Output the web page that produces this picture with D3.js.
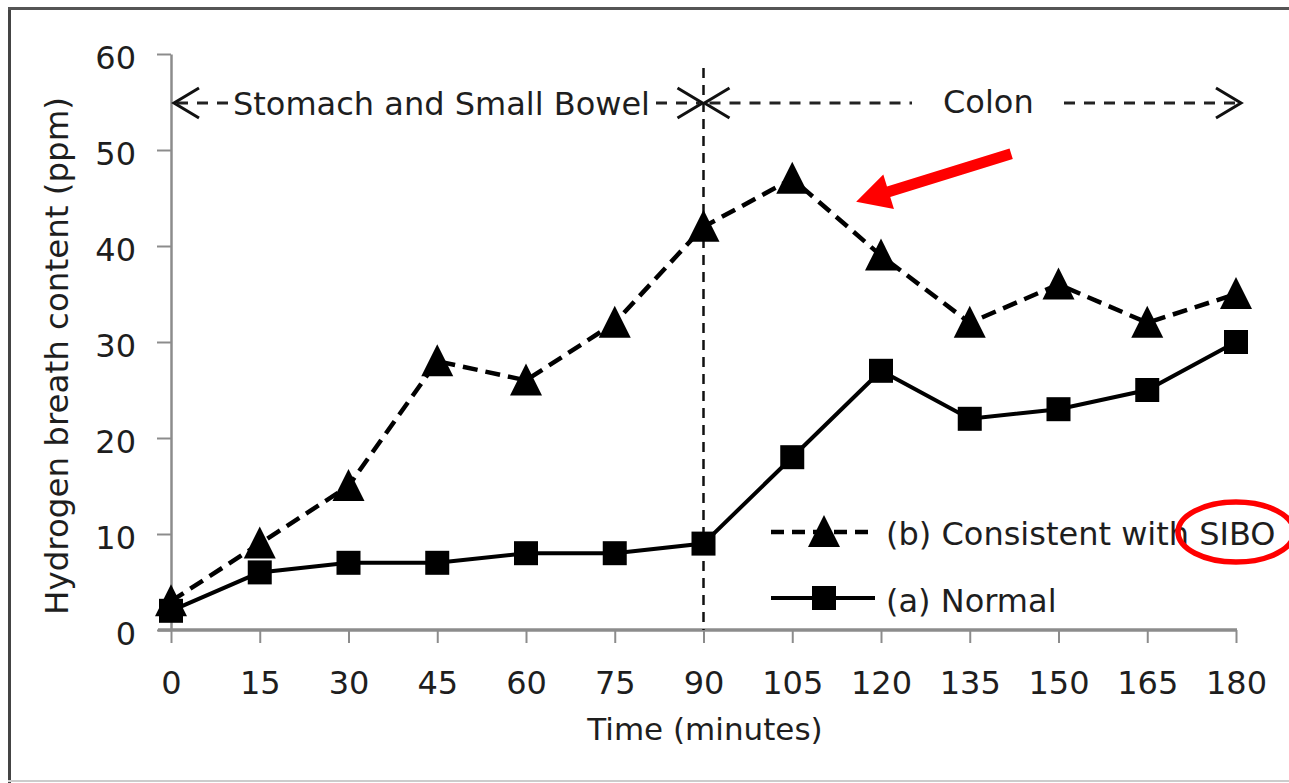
<!DOCTYPE html>
<html><head><meta charset="utf-8">
<script src="https://cdn.jsdelivr.net/npm/d3@7"></script>
<style>html,body{margin:0;padding:0;background:#fff;overflow:hidden;} svg{display:block;}</style>
</head><body><svg id="c" width="1289" height="783"></svg>
<script>
// ---- data ----
const times = [0,15,30,45,60,75,90,105,120,135,150,165,180];
const sibo = [3,9,15,28,26,32,42,47,39,32,36,32,35];
const normal = [2,6,7,7,8,8,9,18,27,22,23,25,30];
const yTicks = [0,10,20,30,40,50,60];
const xTicks = [0,15,30,45,60,75,90,105,120,135,150,165,180];
const seriesNames = ["(b) Consistent with SIBO","(a) Normal"];
const phaseLabels = ["Stomach and Small Bowel","Colon"];
const phaseBoundary = 90;
const xTitle = "Time (minutes)";
const yTitle = "Hydrogen breath content (ppm)";
// annotation anchors (data units)
const arrowTail = [142, 49.6];
const arrowTip = [115.8, 44.6];
const circleCenter = [180, 10.2];

// ---- chart ----
const svg = d3.select("#c");
const x = d3.scaleLinear().domain([0,180]).range([171,1236]);
const y = d3.scaleLinear().domain([0,60]).range([630,54]);
const font = "'DejaVu Sans', Verdana, sans-serif";
const ink = "#1e1e1e";
const axisCol = "#8c8c8c";

// frame
svg.append("line").attr("x1",9.5).attr("x2",9.5).attr("y1",7).attr("y2",783).attr("stroke","#444").attr("stroke-width",3);
svg.append("line").attr("x1",8).attr("x2",1289).attr("y1",8.5).attr("y2",8.5).attr("stroke","#555").attr("stroke-width",3);
svg.append("line").attr("x1",8).attr("x2",1289).attr("y1",781).attr("y2",781).attr("stroke","#ccc").attr("stroke-width",2);

// y axis
const yAx = svg.append("g").attr("transform",`translate(${x(0)},0)`)
  .call(d3.axisLeft(y).tickValues(yTicks).tickSize(14).tickPadding(21).tickSizeOuter(0));
yAx.select(".domain").attr("stroke",axisCol).attr("stroke-width",2.5);
yAx.selectAll(".tick line").attr("stroke",axisCol).attr("stroke-width",2);
yAx.selectAll(".tick text").attr("font-family",font).attr("font-size",32).attr("fill",ink).attr("dy","0.45em");

// x axis
const xAx = svg.append("g").attr("transform",`translate(0,${y(0)})`)
  .call(d3.axisBottom(x).tickValues(xTicks).tickSize(13).tickPadding(28).tickSizeOuter(0));
xAx.select(".domain").remove();
xAx.append("line").attr("x1",x(0)-13).attr("x2",x(180)+1).attr("y1",0).attr("y2",0).attr("stroke",axisCol).attr("stroke-width",3.5);
xAx.selectAll(".tick line").attr("stroke",axisCol).attr("stroke-width",2);
xAx.selectAll(".tick text").attr("font-family",font).attr("font-size",32).attr("fill",ink);

// titles
svg.append("text").attr("x",705).attr("y",740).attr("text-anchor","middle")
  .attr("font-family",font).attr("font-size",31).attr("fill",ink).text(xTitle);
svg.append("text").attr("transform","translate(68,356) rotate(-90)").attr("text-anchor","middle")
  .attr("font-family",font).attr("font-size",32).attr("fill",ink)
  .attr("textLength",518).attr("lengthAdjust","spacingAndGlyphs").text(yTitle);

// vertical phase boundary
svg.append("line").attr("x1",x(phaseBoundary)).attr("x2",x(phaseBoundary))
  .attr("y1",68).attr("y2",y(0)).attr("stroke","#111").attr("stroke-width",2.5).attr("stroke-dasharray","10,7");

// phase annotation row
const ay = 103;
const dashStyle = sel => sel.attr("stroke","#222").attr("stroke-width",3).attr("stroke-dasharray","11,9").attr("fill","none");
const seg = (a,b) => svg.append("line").attr("x1",a).attr("x2",b).attr("y1",ay).attr("y2",ay).call(dashStyle);
seg(x(0)+6, 228);
seg(656, x(phaseBoundary)-4);
seg(x(phaseBoundary)+6, 912);
seg(1064, x(180)+2);
const chev = (tipX, dir) => svg.append("path")
  .attr("d",`M${tipX+dir*25},${ay-15} L${tipX},${ay} L${tipX+dir*25},${ay+15}`)
  .attr("fill","none").attr("stroke","#111").attr("stroke-width",3);
chev(x(0)+3, 1);
chev(x(phaseBoundary)-1, -1);
chev(x(phaseBoundary)+1, 1);
chev(x(180)+5, -1);
svg.append("text").attr("x",233).attr("y",ay+12).attr("font-family",font).attr("font-size",32).attr("fill",ink).text(phaseLabels[0]);
svg.append("text").attr("x",943).attr("y",ay+10).attr("font-family",font).attr("font-size",32).attr("fill",ink).text(phaseLabels[1]);

// series
const line = d3.line().x((d,i)=>x(times[i])).y(d=>y(d));
svg.append("path").datum(sibo).attr("d",line).attr("fill","none").attr("stroke","#000")
  .attr("stroke-width",4.5).attr("stroke-dasharray","15,8");
const tri = "M0,-17 L16,15 L-16,15 Z";
svg.append("g").selectAll("path").data(sibo).join("path")
  .attr("d",tri).attr("transform",(d,i)=>`translate(${x(times[i])},${y(d)})`).attr("fill","#000");

svg.append("path").datum(normal).attr("d",line).attr("fill","none").attr("stroke","#000").attr("stroke-width",4);
svg.append("g").selectAll("rect").data(normal).join("rect")
  .attr("x",(d,i)=>x(times[i])-12).attr("y",d=>y(d)-12).attr("width",24).attr("height",24).attr("fill","#000");

// legend
const lg = svg.append("g");
lg.append("line").attr("x1",771).attr("x2",875).attr("y1",532).attr("y2",532).attr("stroke","#000").attr("stroke-width",4.5).attr("stroke-dasharray","13,8");
lg.append("path").attr("d",tri).attr("transform","translate(824,532)").attr("fill","#000");
lg.append("text").attr("x",886).attr("y",545).attr("font-family",font).attr("font-size",32).attr("fill",ink).text(seriesNames[0]);
lg.append("line").attr("x1",771).attr("x2",875).attr("y1",598).attr("y2",598).attr("stroke","#000").attr("stroke-width",4);
lg.append("rect").attr("x",812).attr("y",586).attr("width",24).attr("height",24).attr("fill","#000");
lg.append("text").attr("x",886).attr("y",612).attr("font-family",font).attr("font-size",32).attr("fill",ink).text(seriesNames[1]);

// red arrow
(function(){
  const t0 = [x(arrowTail[0]), y(arrowTail[1])], t1 = [x(arrowTip[0]), y(arrowTip[1])];
  const dx = t1[0]-t0[0], dy = t1[1]-t0[1], L = Math.hypot(dx,dy);
  const ux = dx/L, uy = dy/L, px = -uy, py = ux;
  const hl = 34, hw = 18, sw = 5.5;
  const bx = t1[0]-ux*hl, by = t1[1]-uy*hl;
  const pts = [
    [t0[0]+px*sw, t0[1]+py*sw],
    [bx+px*sw, by+py*sw],
    [bx+px*hw, by+py*hw],
    t1,
    [bx-px*hw, by-py*hw],
    [bx-px*sw, by-py*sw],
    [t0[0]-px*sw, t0[1]-py*sw]
  ];
  svg.append("path").attr("d","M"+pts.map(p=>p.join(",")).join("L")+"Z").attr("fill","#ff0000");
})();

// red ellipse
svg.append("ellipse").attr("cx",x(circleCenter[0])).attr("cy",y(circleCenter[1]))
  .attr("rx",58).attr("ry",30).attr("fill","none").attr("stroke","#f00").attr("stroke-width",5.5);
</script>
</body></html>
